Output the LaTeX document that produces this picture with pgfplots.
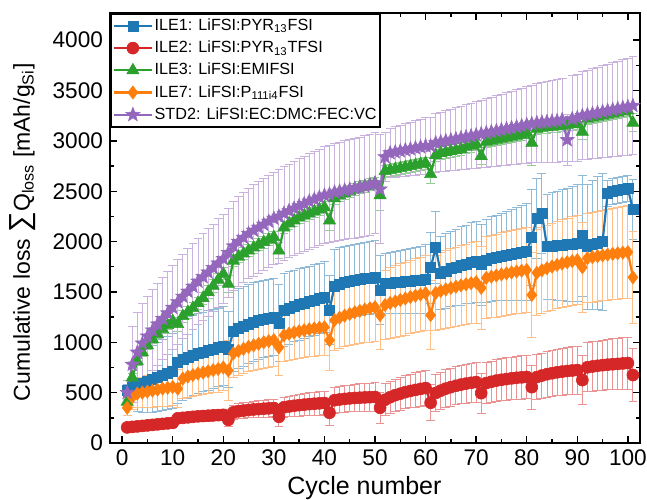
\documentclass[border=0pt]{standalone}
\usepackage{fontspec}
\setmainfont{Liberation Sans}
\usepackage{pgfplots}
\usepackage{pgfplotstable}
\pgfplotsset{compat=1.18}

\definecolor{cB}{RGB}{31,119,180}
\definecolor{cR}{RGB}{214,39,40}
\definecolor{cG}{RGB}{44,160,44}
\definecolor{cO}{RGB}{255,127,14}
\definecolor{cP}{RGB}{148,103,189}

% filled five-point star
\pgfdeclareplotmark{fstar}{%
  \pgfpathmoveto{\pgfpointpolar{90}{\pgfplotmarksize}}%
  \pgfpathlineto{\pgfpointpolar{126}{0.42\pgfplotmarksize}}%
  \pgfpathlineto{\pgfpointpolar{162}{\pgfplotmarksize}}%
  \pgfpathlineto{\pgfpointpolar{198}{0.42\pgfplotmarksize}}%
  \pgfpathlineto{\pgfpointpolar{234}{\pgfplotmarksize}}%
  \pgfpathlineto{\pgfpointpolar{270}{0.42\pgfplotmarksize}}%
  \pgfpathlineto{\pgfpointpolar{306}{\pgfplotmarksize}}%
  \pgfpathlineto{\pgfpointpolar{342}{0.42\pgfplotmarksize}}%
  \pgfpathlineto{\pgfpointpolar{18}{\pgfplotmarksize}}%
  \pgfpathlineto{\pgfpointpolar{54}{0.42\pgfplotmarksize}}%
  \pgfpathclose
  \pgfusepathqfillstroke
}

% c = cycle; b/r/g/o/p = ILE1/ILE2/ILE3/ILE7/STD2, *e = error
\pgfplotstableread{
c b be r re g ge o oe p pe
1 520 60 155 15 410 40 350 80 500 120
2 555 200 160 15 650 40 455 120 780 380
3 575 260 165 18 810 40 490 140 900 400
4 595 290 170 18 900 40 500 150 990 400
5 615 310 175 20 970 40 510 160 1060 400
6 635 330 180 20 1030 40 520 165 1120 400
7 655 345 185 22 1080 40 530 170 1180 405
8 675 355 190 22 1130 40 540 175 1235 410
9 695 365 195 25 1170 40 548 180 1290 410
10 715 375 200 25 1210 40 556 185 1345 415
11 800 410 245 40 1180 70 540 190 1400 420
12 830 410 250 42 1260 60 640 200 1455 420
13 850 405 255 44 1300 60 660 205 1505 425
14 870 400 260 46 1340 60 675 210 1555 425
15 890 400 265 48 1390 60 690 215 1605 430
16 905 395 268 50 1440 60 700 220 1650 430
17 920 395 271 52 1500 60 712 222 1695 435
18 935 390 274 54 1560 60 724 225 1740 435
19 950 390 277 56 1620 60 735 228 1785 440
20 965 390 280 58 1680 60 750 230 1830 440
21 930 380 230 70 1580 80 720 300 1890 440
22 1110 400 305 72 1810 60 890 240 1955 445
23 1140 395 315 74 1850 60 915 242 2000 445
24 1160 395 322 76 1880 60 935 245 2040 450
25 1180 390 328 78 1910 60 955 248 2080 450
26 1200 390 333 80 1940 60 970 250 2110 455
27 1215 390 337 82 1970 60 985 252 2140 455
28 1230 385 341 84 1995 60 1000 255 2170 460
29 1240 385 344 86 2020 60 1012 258 2200 460
30 1250 385 347 88 2045 60 1022 260 2230 460
31 1190 380 260 100 1910 80 950 280 2250 465
32 1320 360 355 102 2140 60 1070 262 2280 465
33 1340 360 363 104 2180 60 1085 265 2305 465
34 1360 355 370 106 2210 60 1098 268 2330 470
35 1375 355 376 108 2240 60 1110 270 2355 470
36 1390 350 381 110 2260 60 1120 272 2375 470
37 1405 350 386 112 2280 60 1130 274 2400 475
38 1420 350 390 114 2300 60 1138 276 2420 475
39 1435 350 394 116 2320 60 1145 278 2440 480
40 1450 350 397 118 2340 60 1150 280 2460 480
41 1320 340 300 125 2210 100 1020 300 2470 480
42 1560 360 425 127 2430 60 1220 300 2490 485
43 1580 360 432 129 2460 60 1245 305 2500 485
44 1595 360 438 131 2480 60 1265 310 2510 490
45 1605 360 443 133 2500 60 1282 315 2520 490
46 1615 360 447 135 2520 60 1298 320 2530 495
47 1625 360 450 137 2540 60 1312 325 2540 495
48 1635 360 453 139 2550 60 1325 330 2550 500
49 1640 360 455 141 2565 60 1338 335 2565 500
50 1650 360 457 143 2580 60 1349 340 2580 500
51 1520 340 350 155 2460 150 1270 340 2520 540
52 1585 300 430 157 2700 60 1370 345 2840 240
53 1590 300 455 159 2710 60 1390 350 2880 245
54 1595 310 475 161 2720 60 1405 355 2890 250
55 1600 310 490 163 2730 60 1420 360 2900 255
56 1605 320 505 165 2740 60 1435 362 2910 260
57 1610 320 517 167 2750 60 1450 365 2920 265
58 1615 330 527 169 2760 60 1462 368 2930 270
59 1620 330 537 171 2770 60 1475 370 2940 275
60 1630 340 546 173 2780 60 1488 372 2950 280
61 1740 350 400 180 2670 90 1270 340 2950 285
62 1940 360 497 182 2860 60 1490 375 2980 290
63 1690 360 520 184 2880 60 1510 380 2990 295
64 1710 370 540 186 2890 60 1525 385 3000 300
65 1730 370 555 188 2900 60 1540 390 3010 305
66 1745 380 568 190 2910 60 1552 393 3020 310
67 1760 390 580 192 2920 60 1565 396 3030 315
68 1775 390 590 194 2940 60 1576 399 3040 320
69 1790 400 598 196 2950 60 1587 402 3050 325
70 1800 400 605 198 2970 60 1597 405 3060 330
71 1770 400 495 200 2850 80 1540 410 3070 335
72 1810 410 595 202 2990 60 1640 408 3080 340
73 1830 420 608 204 3000 60 1652 410 3090 345
74 1840 420 620 206 3010 60 1663 412 3100 350
75 1850 430 628 208 3020 60 1674 414 3110 355
76 1860 440 635 210 3030 60 1684 416 3120 360
77 1870 450 642 212 3040 60 1694 418 3130 365
78 1880 460 648 214 3050 60 1703 420 3140 370
79 1890 470 652 216 3060 60 1711 422 3150 375
80 1900 480 656 218 3080 60 1718 424 3160 380
81 2040 480 555 220 2980 220 1470 420 3170 385
82 2230 400 655 222 3120 60 1690 426 3180 390
83 2280 400 670 224 3130 60 1715 428 3185 395
84 1950 520 683 226 3135 60 1735 430 3190 400
85 1955 530 693 228 3140 60 1752 432 3195 405
86 1960 540 702 230 3145 60 1768 434 3200 410
87 1965 550 709 232 3150 60 1782 436 3210 415
88 1970 560 715 234 3160 60 1795 438 3010 250
89 1975 570 720 236 3165 60 1806 440 3220 425
90 1985 580 724 238 3170 60 1815 442 3230 430
91 2060 600 625 240 3090 80 1745 450 3250 435
92 1950 620 752 242 3220 60 1835 444 3260 440
93 1970 640 760 244 3230 60 1845 446 3270 445
94 1985 660 767 246 3240 60 1855 448 3280 450
95 2000 680 773 248 3250 60 1863 450 3290 455
96 2480 130 778 250 3260 60 1871 452 3300 460
97 2495 130 782 252 3270 60 1878 454 3310 465
98 2505 130 786 254 3280 60 1884 456 3320 470
99 2515 130 790 256 3290 60 1890 458 3330 475
100 2525 130 794 258 3300 60 1895 460 3340 480
101 2320 300 675 260 3180 90 1645 460 3350 485
}\cyc

\begin{document}
\begin{tikzpicture}
\begin{axis}[
    name=main,
    scale only axis,
    width=265pt, height=215pt,
    xmin=-2.4, xmax=102.4,
    ymin=0, ymax=4270,
    xtick={0,10,...,100},
    ytick={0,500,...,4000},
    minor x tick num=1,
    minor y tick num=1,
    tick align=inside,
    major tick length=3.5pt,
    minor tick length=2pt,
    every tick/.style={black, line width=0.7pt},
    axis line style={line width=0.8pt},
    /pgf/number format/assume math mode=true,
    /pgf/number format/1000 sep={},
    tick label style={font=\fontsize{11.3}{13}\selectfont},
    xlabel={Cycle number},
    ylabel={Cumulative loss {\fontsize{14.5}{14}\selectfont ∑}Q\textsubscript{loss} [mAh/g\textsubscript{Si}]},
    x label style={font=\fontsize{12.5}{15}\selectfont,
        at={(axis description cs:0.48,-0.105)}, anchor=center},
    y label style={font=\fontsize{11.5}{14}\selectfont,
        at={(axis description cs:-0.164,0.49)}, anchor=center},
    legend style={at={(0,1)}, anchor=north west, draw=black, line width=0.8pt,
        fill=white, font=\fontsize{8.1}{9}\selectfont,
        inner xsep=1pt, inner ysep=1pt, row sep=1pt,
        nodes={inner sep=0.8pt, text height=6.5pt, text depth=2pt}},
    legend cell align=left,
    legend image code/.code={\draw[mark repeat=2,mark phase=2,#1]
        plot coordinates {(0pt,0pt) (9.5pt,0pt) (19pt,0pt)};},
]
% error bars first, behind all lines
\addplot[forget plot, draw=none, mark=none, error bars/.cd, y dir=both, y explicit,
    error bar style={draw=cB!50!white, line width=0.45pt},
    error mark options={draw=cB!50!white, line width=0.45pt, mark size=2.2pt, rotate=90}]
    table[x=c, y=b, y error=be] {\cyc};
\addplot[forget plot, draw=none, mark=none, error bars/.cd, y dir=both, y explicit,
    error bar style={draw=cR!50!white, line width=0.45pt},
    error mark options={draw=cR!50!white, line width=0.45pt, mark size=2.2pt, rotate=90}]
    table[x=c, y=r, y error=re] {\cyc};
\addplot[forget plot, draw=none, mark=none, error bars/.cd, y dir=both, y explicit,
    error bar style={draw=cG!50!white, line width=0.45pt},
    error mark options={draw=cG!50!white, line width=0.45pt, mark size=2.2pt, rotate=90}]
    table[x=c, y=g, y error=ge] {\cyc};
\addplot[forget plot, draw=none, mark=none, error bars/.cd, y dir=both, y explicit,
    error bar style={draw=cO!50!white, line width=0.45pt},
    error mark options={draw=cO!50!white, line width=0.45pt, mark size=2.2pt, rotate=90}]
    table[x=c, y=o, y error=oe] {\cyc};
\addplot[forget plot, draw=none, mark=none, error bars/.cd, y dir=both, y explicit,
    error bar style={draw=cP!50!white, line width=0.45pt},
    error mark options={draw=cP!50!white, line width=0.45pt, mark size=2.2pt, rotate=90}]
    table[x=c, y=p, y error=pe] {\cyc};

\addplot[cB, line width=1.1pt, mark=square*, mark size=2.5pt, mark options={solid, line width=0.3pt}]
    table[x=c, y=b] {\cyc};
\addlegendentry{ILE1: LiFSI:PYR\textsubscript{13}FSI}
\addplot[cR, line width=1.1pt, mark=*, mark size=3pt, mark options={solid, line width=0.3pt}]
    table[x=c, y=r] {\cyc};
\addlegendentry{ILE2: LiFSI:PYR\textsubscript{13}TFSI}
\addplot[cG, line width=1.1pt, mark=triangle*, mark size=3.5pt, mark options={solid, line width=0.3pt}]
    table[x=c, y=g] {\cyc};
\addlegendentry{ILE3: LiFSI:EMIFSI}
\addplot[cO, line width=1.1pt, mark=diamond*, mark size=3.3pt, mark options={solid, line width=0.3pt}]
    table[x=c, y=o] {\cyc};
\addlegendentry{ILE7: LiFSI:P\textsubscript{111i4}FSI}
\addplot[cP, line width=1.1pt, mark=fstar, mark size=3.7pt, mark options={solid, line width=0.3pt}]
    table[x=c, y=p] {\cyc};
\addlegendentry{STD2: LiFSI:EC:DMC:FEC:VC}
\end{axis}
\pgfresetboundingbox
\path[use as bounding box] ([xshift=-55pt,yshift=-28pt]main.south west)
    rectangle ([xshift=3.5pt,yshift=6.5pt]main.north east);
\end{tikzpicture}
\end{document}
